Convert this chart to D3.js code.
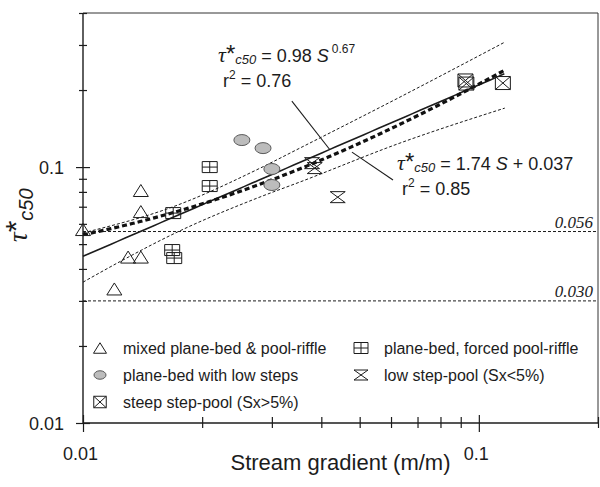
<!DOCTYPE html>
<html>
<head>
<meta charset="utf-8">
<script src="https://cdn.jsdelivr.net/npm/d3@7"></script>
<style>
  html, body { margin: 0; padding: 0; background: #fff; }
  svg { display: block; }
</style>
</head>
<body>
<svg id="chart" width="600" height="487"></svg>
<script>
// ---- Observations: stream gradient S (m/m) and critical Shields stress tau*c50 ----
const mixedS    = [0.0100, 0.0140, 0.0140, 0.0130, 0.0140, 0.0120];
const mixedT    = [0.0570, 0.0810, 0.0670, 0.0445, 0.0445, 0.0334];

const forcedS   = [0.0209, 0.0209, 0.0169, 0.0168, 0.0170];
const forcedT   = [0.1000, 0.0843, 0.0661, 0.0474, 0.0441];

const lowStepS  = [0.0252, 0.0285, 0.0300, 0.0300];
const lowStepT  = [0.1275, 0.1186, 0.0983, 0.0851];

const lowPoolS  = [0.0379, 0.0385, 0.0440];
const lowPoolT  = [0.1036, 0.0991, 0.0763];

const steepS    = [0.0925, 0.0930, 0.1150];
const steepT    = [0.2180, 0.2120, 0.2130];

// ---- Fitted relations ----
const powCoef = 0.98, powExp = 0.67;      // tau* = 0.98 S^0.67
const linSlope = 1.74, linIcpt = 0.037;   // tau* = 1.74 S + 0.037
const fitRange = [0.01, 0.116];

// ---- Bands around the fit ----
const upperBandS = [0.0100, 0.0169, 0.0280, 0.0353, 0.0632, 0.1163];
const upperBandT = [0.0553, 0.0700, 0.0990, 0.1186, 0.1877, 0.3078];
const lowerBandS = [0.0100, 0.0126, 0.0173, 0.0280, 0.0353, 0.0632, 0.1163];
const lowerBandT = [0.0355, 0.0433, 0.0557, 0.0764, 0.0874, 0.1241, 0.1700];

// ---- Reference thresholds ----
const thresholds = [0.056, 0.030];
const thresholdLabels = ["0.056", "0.030"];

// ---- Ticks ----
const xMajorTicks = [0.01, 0.1];
const xTickLabels = ["0.01", "0.1"];
const xMinorTicks = [0.02, 0.03, 0.04, 0.05, 0.06, 0.07, 0.08, 0.09, 0.2];
const yMajorTicks = [0.01, 0.1];
const yTickLabels = ["0.01", "0.1"];
const yMinorTicks = [0.02, 0.03, 0.04, 0.05, 0.06, 0.07, 0.08, 0.09, 0.2, 0.3, 0.4];

// ---- Legend ----
const legendKinds  = ["triangle", "ellipse", "boxX", "boxPlus", "hourglass"];
const legendLabels = ["mixed plane-bed & pool-riffle", "plane-bed with low steps",
                      "steep step-pool (Sx>5%)", "plane-bed, forced pool-riffle",
                      "low step-pool (Sx<5%)"];

const SANS = "'Liberation Sans', Arial, Helvetica, sans-serif";
const SERIF = "'Liberation Serif', 'Times New Roman', serif";
const INK = "#1c1c1c";

const svg = d3.select("#chart");
const x = d3.scaleLog().domain([0.01, 0.2]).range([83, 598]);
const y = d3.scaleLog().domain([0.01, 0.4]).range([423, 13]);
const [x0, x1] = x.range();
const [y0, y1] = y.range();

// ---- Frame ----
const frame = svg.append("g");
frame.append("line").attr("x1", x0).attr("x2", x1).attr("y1", y1).attr("y2", y1)
  .attr("stroke", "#333").attr("stroke-width", 1);
frame.append("line").attr("x1", x1).attr("x2", x1).attr("y1", y1).attr("y2", y0)
  .attr("stroke", "#333").attr("stroke-width", 1);

// ---- Axes (ticks cross the axis line) ----
function styleTicks(g, inner, outer, vertical) {
  g.select(".domain").remove();
  g.selectAll(".tick line").attr("stroke", INK).attr("stroke-width", 1.2);
  if (vertical) g.selectAll(".tick line").attr("x1", inner).attr("x2", -outer);
  else g.selectAll(".tick line").attr("y1", -inner).attr("y2", outer);
}

const gyMinor = svg.append("g").attr("transform", `translate(${x0},0)`)
  .call(d3.axisLeft(y).tickValues(yMinorTicks).tickFormat(""));
styleTicks(gyMinor, 4, 4, true);
const gyMajor = svg.append("g").attr("transform", `translate(${x0},0)`)
  .call(d3.axisLeft(y).tickValues(yMajorTicks).tickFormat((d, i) => yTickLabels[i]));
styleTicks(gyMajor, 7, 7, true);
gyMajor.selectAll(".tick text").attr("x", -19).attr("dy", "0.36em")
  .attr("font-family", SANS).attr("font-size", 18).attr("fill", INK);

const gxMinor = svg.append("g").attr("transform", `translate(0,${y0})`)
  .call(d3.axisBottom(x).tickValues(xMinorTicks).tickFormat(""));
styleTicks(gxMinor, 6, 5, false);
const gxMajor = svg.append("g").attr("transform", `translate(0,${y0})`)
  .call(d3.axisBottom(x).tickValues(xMajorTicks).tickFormat((d, i) => xTickLabels[i]));
styleTicks(gxMajor, 8, 9, false);
gxMajor.selectAll(".tick text").attr("y", 24).attr("dy", "0.71em").attr("dx", -3)
  .attr("font-family", SANS).attr("font-size", 18).attr("fill", INK);

svg.append("line").attr("x1", x0).attr("x2", x0).attr("y1", y1).attr("y2", y0)
  .attr("stroke", INK).attr("stroke-width", 1.4);
svg.append("line").attr("x1", x0).attr("x2", x1).attr("y1", y0).attr("y2", y0)
  .attr("stroke", INK).attr("stroke-width", 1.4);

// ---- Axis titles ----
svg.append("text").attr("x", (x0 + x1) / 2).attr("y", 470).attr("text-anchor", "middle")
  .attr("font-family", SANS).attr("font-size", 22).attr("fill", INK)
  .text("Stream gradient (m/m)");

const yTitle = svg.append("text").attr("transform", "translate(27,242) rotate(-90)")
  .attr("font-family", SANS).attr("fill", INK);
yTitle.append("tspan").attr("font-family", SERIF).attr("font-style", "italic")
  .attr("font-size", 27).text("τ");
yTitle.append("tspan").attr("font-size", 30).attr("dy", -1).text("*");
yTitle.append("tspan").attr("font-size", 20).attr("font-style", "italic").attr("dy", 7).text("c50");

// ---- Threshold lines ----
thresholds.forEach((t, i) => {
  svg.append("line").attr("x1", x0).attr("x2", x1).attr("y1", y(t)).attr("y2", y(t))
    .attr("stroke", INK).attr("stroke-width", 1).attr("stroke-dasharray", "3,2");
  svg.append("text").attr("x", x1 - 5).attr("y", y(t) - 4).attr("text-anchor", "end")
    .attr("font-family", SERIF).attr("font-style", "italic").attr("font-size", 17)
    .attr("fill", INK).text(thresholdLabels[i]);
});

// ---- Fit curves ----
const line = d3.line().x(d => x(d[0])).y(d => y(d[1]));
const fitS = d3.range(0, 61).map(i => fitRange[0] * Math.pow(fitRange[1] / fitRange[0], i / 60));

svg.append("path").datum(fitS.map(s => [s, powCoef * Math.pow(s, powExp)]))
  .attr("d", line).attr("fill", "none").attr("stroke", INK).attr("stroke-width", 1.6);

svg.append("path").datum(fitS.map(s => [s, linSlope * s + linIcpt]))
  .attr("d", line).attr("fill", "none").attr("stroke", "#111").attr("stroke-width", 3.2)
  .attr("stroke-dasharray", "5,3");

const bandLine = d3.line().x(d => x(d[0])).y(d => y(d[1])).curve(d3.curveMonotoneX);
[[upperBandS, upperBandT], [lowerBandS, lowerBandT]].forEach(([sArr, tArr]) => {
  svg.append("path").datum(sArr.map((s, i) => [s, tArr[i]]))
    .attr("d", bandLine).attr("fill", "none").attr("stroke", INK)
    .attr("stroke-width", 1).attr("stroke-dasharray", "3,2");
});

// ---- Symbols ----
function symbolPath(kind, w, h) {
  const a = w / 2, b = h / 2;
  switch (kind) {
    case "triangle":  return `M0,${-b}L${a},${b}L${-a},${b}Z`;
    case "boxPlus":   return `M${-a},${-b}H${a}V${b}H${-a}Z M0,${-b}V${b} M${-a},0H${a}`;
    case "boxX":      return `M${-a},${-b}H${a}V${b}H${-a}Z M${-a},${-b}L${a},${b} M${a},${-b}L${-a},${b}`;
    case "hourglass": return `M${-a},${-b}L${a},${-b}L${-a},${b}L${a},${b}Z`;
  }
}
const plotSize = { triangle: [15, 12], boxPlus: [15, 11], boxX: [15, 13], hourglass: [15, 11], ellipse: [16, 11] };
const legendSize = { triangle: [13, 10.5], boxPlus: [14, 11], boxX: [12.5, 11.5], hourglass: [14, 10], ellipse: [12, 8.5] };

function drawSymbol(g, kind, cx, cy, size) {
  const [w, h] = size[kind];
  if (kind === "ellipse") {
    g.append("ellipse").attr("cx", cx).attr("cy", cy).attr("rx", w / 2).attr("ry", h / 2)
      .attr("fill", "#bcbcbc").attr("stroke", "#5a5a5a").attr("stroke-width", 1);
  } else {
    g.append("path").attr("transform", `translate(${cx},${cy})`).attr("d", symbolPath(kind, w, h))
      .attr("fill", "none").attr("stroke", INK).attr("stroke-width", 1);
  }
}

const pts = svg.append("g");
const groups = [
  ["triangle", mixedS, mixedT],
  ["boxPlus", forcedS, forcedT],
  ["ellipse", lowStepS, lowStepT],
  ["hourglass", lowPoolS, lowPoolT],
  ["boxX", steepS, steepT]
];
groups.forEach(([kind, sArr, tArr]) => {
  sArr.forEach((s, i) => drawSymbol(pts, kind, x(s), y(tArr[i]), plotSize));
});

// ---- Equation annotations ----
function equation(px, py, rhs, r2) {
  const t = svg.append("text").attr("x", px).attr("y", py)
    .attr("font-family", SANS).attr("font-size", 18).attr("fill", INK);
  t.append("tspan").attr("font-family", SERIF).attr("font-style", "italic").attr("font-size", 22).text("τ");
  t.append("tspan").attr("font-size", 24).attr("dy", 0).text("*");
  t.append("tspan").attr("font-size", 13).attr("font-style", "italic").attr("dy", 2).text("c50");
  t.append("tspan").attr("dy", -2).text(" = ");
  rhs(t);
  const r = svg.append("text").attr("x", px + 5).attr("y", py + 25)
    .attr("font-family", SANS).attr("font-size", 18).attr("fill", INK);
  r.append("tspan").text("r");
  r.append("tspan").attr("font-size", 12).attr("dy", -8).text("2");
  r.append("tspan").attr("dy", 8).text(" = " + r2);
}

equation(218, 62, t => {
  t.append("tspan").text(powCoef.toFixed(2) + " ");
  t.append("tspan").attr("font-style", "italic").text("S");
  t.append("tspan").attr("font-size", 12).attr("dx", 3).attr("dy", -9).text(powExp.toFixed(2));
}, "0.76");

equation(397, 170, t => {
  t.append("tspan").text(linSlope.toFixed(2) + " ");
  t.append("tspan").attr("font-style", "italic").text("S");
  t.append("tspan").text(" + " + linIcpt.toFixed(3));
}, "0.85");

// leader lines from the labels to their curves
const leaderPow = [[0.0337, 0.181], [0.0420, powCoef * Math.pow(0.0420, powExp)]];
const leaderLin = [[0.0478, 0.1144], [0.0607, 0.0890]];
[leaderPow, leaderLin].forEach(seg => {
  svg.append("line").attr("x1", x(seg[0][0])).attr("y1", y(seg[0][1]))
    .attr("x2", x(seg[1][0])).attr("y2", y(seg[1][1]))
    .attr("stroke", INK).attr("stroke-width", 1.1);
});

// ---- Legend ----
const legendPos = [[100, 348], [100, 375], [100, 402], [361, 348], [361, 375]];
const lg = svg.append("g");
legendKinds.forEach((kind, i) => {
  const [lx, ly] = legendPos[i];
  drawSymbol(lg, kind, lx, ly, legendSize);
  lg.append("text").attr("x", lx + 23).attr("y", ly + 5.5)
    .attr("font-family", SANS).attr("font-size", 16).attr("fill", INK)
    .text(legendLabels[i]);
});
</script>
</body>
</html>
